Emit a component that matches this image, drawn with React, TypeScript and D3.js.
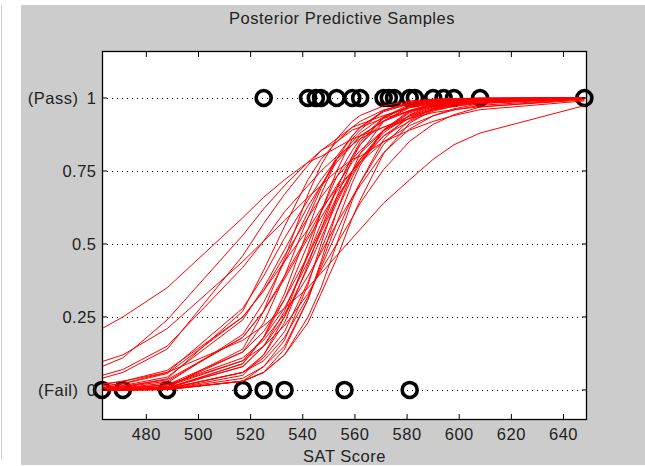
import React from "react";
import * as d3 from "d3";

// SAT score knots at which the posterior predictive curves are drawn (observed scores)
const knots = [463, 471, 488, 517, 525, 533, 542, 547, 553, 559, 562, 571, 581, 590, 598, 608, 648];

// Observed outcomes
const failScores = [463, 471, 488, 517, 525, 533, 556, 581];
const passScores = [525, 542, 545, 547, 553, 559, 562, 571, 573, 575, 581, 583, 590, 594, 598, 608, 648];

// Posterior predictive samples: P(pass) at each knot
const sample01 = [0.21, 0.25, 0.35, 0.59, 0.66, 0.72, 0.78, 0.8, 0.83, 0.86, 0.87, 0.9, 0.93, 0.95, 0.96, 0.97, 0.993];
const sample02 = [0.02, 0.03, 0.06, 0.17, 0.22, 0.28, 0.35, 0.4, 0.46, 0.52, 0.55, 0.64, 0.72, 0.79, 0.84, 0.88, 0.974];
const sample03 = [0.08, 0.11, 0.24, 0.53, 0.62, 0.7, 0.78, 0.82, 0.85, 0.89, 0.9, 0.93, 0.955, 0.969, 0.979, 0.986, 0.998];
const sample04 = [0.04, 0.06, 0.14, 0.46, 0.57, 0.67, 0.77, 0.82, 0.86, 0.9, 0.91, 0.94, 0.967, 0.98, 0.987, 0.993, 0.999];
const sample05 = [0.05, 0.07, 0.15, 0.42, 0.51, 0.61, 0.7, 0.75, 0.8, 0.84, 0.86, 0.9, 0.938, 0.959, 0.971, 0.982, 0.997];
const sample06 = [0.097, 0.12, 0.21, 0.44, 0.51, 0.58, 0.66, 0.7, 0.75, 0.79, 0.8, 0.85, 0.89, 0.92, 0.94, 0.96, 0.99];
const sample07 = [0.013, 0.022, 0.06, 0.28, 0.39, 0.52, 0.65, 0.72, 0.79, 0.84, 0.87, 0.92, 0.955, 0.974, 0.984, 0.991, 0.999];
const sample08 = [0.006, 0.011, 0.038, 0.27, 0.41, 0.56, 0.72, 0.79, 0.85, 0.9, 0.92, 0.959, 0.981, 0.99, 0.995, 0.998, 1.0];
const sample09 = [0.004, 0.007, 0.024, 0.19, 0.3, 0.44, 0.61, 0.7, 0.79, 0.85, 0.88, 0.937, 0.97, 0.984, 0.992, 0.996, 1.0];
const sample10 = [0.006, 0.01, 0.03, 0.18, 0.27, 0.39, 0.53, 0.61, 0.7, 0.78, 0.81, 0.888, 0.939, 0.966, 0.98, 0.989, 0.999];
const sample11 = [0.002, 0.003, 0.012, 0.1, 0.18, 0.28, 0.44, 0.54, 0.65, 0.75, 0.79, 0.881, 0.941, 0.97, 0.983, 0.992, 1.0];
const sample12 = [0.003, 0.005, 0.017, 0.11, 0.17, 0.26, 0.39, 0.47, 0.57, 0.66, 0.7, 0.813, 0.894, 0.939, 0.963, 0.981, 0.999];
const sample13 = [0.004, 0.006, 0.017, 0.1, 0.15, 0.22, 0.33, 0.41, 0.5, 0.59, 0.64, 0.755, 0.852, 0.91, 0.943, 0.969, 0.997];
const sample14 = [0.001, 0.002, 0.009, 0.14, 0.27, 0.45, 0.67, 0.77, 0.86, 0.92, 0.94, 0.973, 0.99, 0.996, 0.998, 0.999, 1.0];
const sample15 = [0.001, 0.002, 0.01, 0.13, 0.23, 0.39, 0.59, 0.69, 0.8, 0.87, 0.9, 0.953, 0.98, 0.991, 0.996, 0.998, 1.0];
const sample16 = [0.0, 0.001, 0.005, 0.09, 0.18, 0.33, 0.55, 0.67, 0.79, 0.87, 0.9, 0.957, 0.984, 0.993, 0.997, 0.999, 1.0];
const sample17 = [0.001, 0.002, 0.007, 0.09, 0.18, 0.31, 0.5, 0.61, 0.73, 0.82, 0.86, 0.933, 0.972, 0.987, 0.994, 0.998, 1.0];
const sample18 = [0.0, 0.0, 0.002, 0.05, 0.12, 0.25, 0.47, 0.61, 0.75, 0.86, 0.89, 0.957, 0.986, 0.995, 0.998, 0.999, 1.0];
const sample19 = [0.0, 0.001, 0.003, 0.06, 0.12, 0.23, 0.43, 0.55, 0.69, 0.8, 0.85, 0.931, 0.973, 0.989, 0.995, 0.998, 1.0];
const sample20 = [0.001, 0.002, 0.008, 0.08, 0.15, 0.25, 0.42, 0.52, 0.64, 0.75, 0.79, 0.889, 0.949, 0.975, 0.987, 0.994, 1.0];
const sample21 = [0.0, 0.0, 0.001, 0.03, 0.08, 0.17, 0.36, 0.5, 0.66, 0.79, 0.84, 0.935, 0.978, 0.992, 0.997, 0.999, 1.0];
const sample22 = [0.0, 0.001, 0.004, 0.06, 0.11, 0.2, 0.37, 0.48, 0.61, 0.73, 0.78, 0.89, 0.953, 0.979, 0.99, 0.996, 1.0];
const sample23 = [0.0, 0.0, 0.002, 0.04, 0.08, 0.15, 0.31, 0.43, 0.57, 0.71, 0.77, 0.891, 0.957, 0.982, 0.992, 0.997, 1.0];
const sample24 = [0.001, 0.001, 0.005, 0.06, 0.1, 0.18, 0.32, 0.42, 0.54, 0.66, 0.71, 0.841, 0.924, 0.963, 0.98, 0.991, 1.0];
const sample25 = [0.0, 0.0, 0.002, 0.03, 0.06, 0.12, 0.25, 0.35, 0.5, 0.65, 0.71, 0.858, 0.943, 0.976, 0.989, 0.996, 1.0];
const sample26 = [0.0, 0.0, 0.002, 0.03, 0.06, 0.12, 0.23, 0.33, 0.45, 0.59, 0.65, 0.81, 0.914, 0.96, 0.98, 0.992, 1.0];
const sample27 = [0.001, 0.001, 0.006, 0.08, 0.15, 0.27, 0.46, 0.57, 0.69, 0.8, 0.84, 0.921, 0.967, 0.985, 0.993, 0.997, 1.0];
const sample28 = [0.0, 0.0, 0.001, 0.03, 0.06, 0.14, 0.31, 0.44, 0.61, 0.75, 0.81, 0.92, 0.972, 0.99, 0.996, 0.999, 1.0];
const sample29 = [0.013, 0.021, 0.056, 0.25, 0.34, 0.46, 0.59, 0.66, 0.73, 0.79, 0.82, 0.89, 0.93, 0.96, 0.975, 0.986, 0.999];
const sample30 = [0.008, 0.012, 0.035, 0.18, 0.27, 0.38, 0.52, 0.59, 0.68, 0.75, 0.79, 0.87, 0.92, 0.955, 0.972, 0.985, 0.999];
const sample31 = [0.019, 0.029, 0.067, 0.25, 0.34, 0.44, 0.55, 0.62, 0.69, 0.75, 0.78, 0.85, 0.906, 0.939, 0.959, 0.975, 0.997];
const sample32 = [0.003, 0.005, 0.018, 0.13, 0.2, 0.31, 0.46, 0.55, 0.66, 0.74, 0.78, 0.87, 0.933, 0.964, 0.979, 0.99, 1.0];
const sample33 = [0.009, 0.015, 0.044, 0.24, 0.35, 0.48, 0.63, 0.7, 0.78, 0.84, 0.87, 0.922, 0.958, 0.977, 0.986, 0.993, 1.0];

const samples = [
  sample01, sample02, sample03, sample04, sample05, sample06, sample07, sample08,
  sample09, sample10, sample11, sample12, sample13, sample14, sample15, sample16,
  sample17, sample18, sample19, sample20, sample21, sample22, sample23, sample24,
  sample25, sample26, sample27, sample28, sample29, sample30, sample31, sample32,
  sample33,
];

// Axis ticks
const xTicks = [480, 500, 520, 540, 560, 580, 600, 620, 640];
const yTicks = [0, 0.25, 0.5, 0.75, 1];
const yTickLabels = ["0", "0.25", "0.5", "0.75", "1"];
const yTickPrefix = ["(Fail)", "", "", "", "(Pass)"];

const W = 645;
const H = 466;
const left = 102;
const right = 587;
const top = 51;
const bottom = 420;

const FONT = "'Liberation Sans', Arial, Helvetica, sans-serif";

export default function App() {
  const x = d3.scaleLinear().domain([463, 649]).range([left, right]);
  const y = d3.scaleLinear().domain([-0.103, 1.161]).range([bottom, top]);
  const line = d3
    .line<number>()
    .x((_, i) => x(knots[i]))
    .y((d) => y(d));

  const fontStyle = { fontFamily: FONT, fontSize: 16.5, letterSpacing: 0.5, fill: "#222" };

  return (
    <svg
      width={W}
      height={H}
      style={{ position: "absolute", left: 0, top: 0, display: "block" }}
    >
      <rect x={0} y={0} width={W} height={H} fill="#ffffff" />
      <line x1={1.5} x2={1.5} y1={5} y2={460} stroke="#cfcfcf" strokeWidth={1} />
      <rect x={21} y={5} width={W - 21} height={460} fill="#cccccc" />
      <rect x={left} y={top} width={right - left} height={bottom - top} fill="#ffffff" />

      {/* dotted grid */}
      {yTicks.map((t) => (
        <line
          key={"g" + t}
          x1={left}
          x2={right}
          y1={Math.round(y(t)) + 0.5}
          y2={Math.round(y(t)) + 0.5}
          stroke="#000"
          strokeWidth={1}
          strokeDasharray="1 4"
        />
      ))}

      {/* observed outcomes */}
      {failScores.map((s, i) => (
        <circle key={"f" + i} cx={x(s)} cy={y(0)} r={7.5} fill="none" stroke="#000" strokeWidth={3.6} />
      ))}
      {passScores.map((s, i) => (
        <circle key={"p" + i} cx={x(s)} cy={y(1)} r={7.5} fill="none" stroke="#000" strokeWidth={3.6} />
      ))}

      {/* posterior predictive curves */}
      {samples.map((s, i) => (
        <path key={"c" + i} d={line(s) || ""} fill="none" stroke="#ff0000" strokeWidth={1} />
      ))}

      {/* axes box */}
      <rect
        x={left + 0.5}
        y={top + 0.5}
        width={right - left - 1}
        height={bottom - top - 1}
        fill="none"
        stroke="#000"
        strokeWidth={1.3}
      />

      {/* x ticks */}
      {xTicks.map((t) => (
        <g key={"xt" + t}>
          <line x1={x(t)} x2={x(t)} y1={bottom} y2={bottom - 6} stroke="#000" strokeWidth={1} />
          <line x1={x(t)} x2={x(t)} y1={top} y2={top + 6} stroke="#000" strokeWidth={1} />
          <text x={x(t)} y={440} textAnchor="middle" style={fontStyle}>
            {t}
          </text>
        </g>
      ))}

      {/* y ticks */}
      {yTicks.map((t, i) => (
        <g key={"yt" + t}>
          <line x1={left} x2={left + 5} y1={y(t)} y2={y(t)} stroke="#000" strokeWidth={1} />
          <line x1={right} x2={right - 5} y1={y(t)} y2={y(t)} stroke="#000" strokeWidth={1} />
          <text x={96.5} y={y(t) + 5.8} textAnchor="end" style={fontStyle}>
            {yTickLabels[i]}
          </text>
          {yTickPrefix[i] && (
            <text x={78.5} y={y(t) + 5.8} textAnchor="end" style={fontStyle}>
              {yTickPrefix[i]}
            </text>
          )}
        </g>
      ))}

      <text x={(left + right) / 2} y={462} textAnchor="middle" style={fontStyle}>
        SAT Score
      </text>
      <text x={342} y={24} textAnchor="middle" style={fontStyle}>
        Posterior Predictive Samples
      </text>
    </svg>
  );
}
